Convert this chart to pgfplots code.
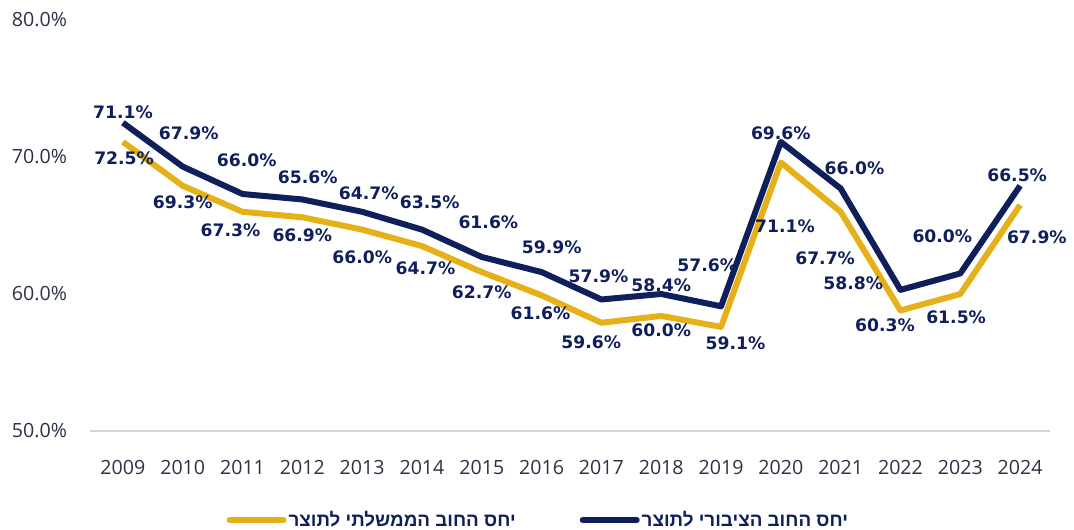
\documentclass[border=0pt]{standalone}
\usepackage{fontspec}
\setmainfont{Open Sans}
\newfontfamily\lblfont{DejaVu Sans}
\newfontfamily\hebfont[Script=Hebrew]{Liberation Sans}
\TeXXeTstate=1
\usepackage{pgfplots}
\usepackage{pgfplotstable}
\pgfplotsset{compat=1.18}

\definecolor{navy}{HTML}{0F1F5C}
\definecolor{gold}{HTML}{E5B018}
\definecolor{tickc}{HTML}{2B3246}

% debt to GDP, percent
\pgfplotstableread{
year gov  pub
2009 71.1 72.5
2010 67.9 69.3
2011 66.0 67.3
2012 65.6 66.9
2013 64.7 66.0
2014 63.5 64.7
2015 61.6 62.7
2016 59.9 61.6
2017 57.9 59.6
2018 58.4 60.0
2019 57.6 59.1
2020 69.6 71.1
2021 66.0 67.7
2022 58.8 60.3
2023 60.0 61.5
2024 66.5 67.9
}\debt

% label positions as drawn in the original
\pgfplotstableread{
x       y     t
2009.00 73.28 71.1
2010.10 71.75 67.9
2011.07 69.78 66.0
2012.09 68.54 65.6
2013.11 67.37 64.7
2014.13 66.72 63.5
2015.11 65.26 61.6
2016.17 63.43 59.9
2016.95 61.31 57.9
2018.00 60.66 58.4
2018.77 62.12 57.6
2020.00 71.75 69.6
2021.23 69.20 66.0
2021.21 60.80 58.8
2022.70 64.23 60.0
2023.95 68.69 66.5
2009.02 69.93 72.5
2010.00 66.72 69.3
2010.80 64.67 67.3
2012.00 64.31 66.9
2013.00 62.70 66.0
2014.06 61.90 64.7
2015.00 60.15 62.7
2015.98 58.61 61.6
2016.83 56.50 59.6
2018.00 57.37 60.0
2019.24 56.42 59.1
2020.07 64.96 71.1
2020.74 62.63 67.7
2021.74 57.74 60.3
2022.93 58.32 61.5
2024.28 64.16 67.9
}\labels

\begin{document}
\begin{tikzpicture}
\begin{axis}[
  scale only axis, width=480pt, height=205.5pt,
  xmin=2008.45, xmax=2024.5, ymin=50, ymax=80,
  xtick={2009,2010,2011,2012,2013,2014,2015,2016,2017,2018,2019,2020,2021,2022,2023,2024},
  xticklabels={2009,2010,2011,2012,2013,2014,2015,2016,2017,2018,2019,2020,2021,2022,2023,2024},
  ytick={50,60,70,80},
  yticklabels={50.0\%,60.0\%,70.0\%,80.0\%},
  axis x line*=bottom, axis y line*=left,
  y axis line style={draw=none},
  x axis line style={draw=black!17, line width=1.2pt},
  major tick length=0pt,
  tick label style={font=\fontsize{9.8}{11}\selectfont, text=tickc},
  yticklabel style={anchor=east, xshift=-8pt},
  xticklabel style={anchor=base, yshift=-21.5pt},
  clip=false,
  legend columns=2,
  legend style={at={(0.467,-0.2165)}, anchor=center, draw=none, fill=none,
    font=\hebfont\bfseries\fontsize{9.4}{11}\selectfont, text=navy,
    nodes={inner sep=1pt},
    /tikz/every even column/.append style={column sep=31pt}},
  legend image code/.code={\draw[line width=3pt, line cap=round] (0pt,0pt) -- (27pt,0pt);},
]
\addplot[gold, line width=3pt, line join=round] table[x=year, y=gov] \debt;
\addlegendentry{\beginR יחס החוב הממשלתי לתוצר\endR}
\addplot[navy, line width=3pt, line join=round] table[x=year, y=pub] \debt;
\addlegendentry{\beginR יחס החוב הציבורי לתוצר\endR}

\addplot[draw=none, mark=none, forget plot, point meta=explicit symbolic,
  nodes near coords={\pgfplotspointmeta\%},
  every node near coord/.append style={anchor=center, inner sep=0pt,
    font=\lblfont\bfseries\fontsize{8.6}{10}\selectfont, text=navy}]
  table[x=x, y=y, meta=t] \labels;

\coordinate (SW) at (rel axis cs:0,0);
\coordinate (NE) at (rel axis cs:1,1);
\end{axis}
\pgfresetboundingbox
\path ([xshift=-45pt,yshift=-49pt]SW) rectangle ([xshift=12pt,yshift=10pt]NE);
\end{tikzpicture}
\end{document}
